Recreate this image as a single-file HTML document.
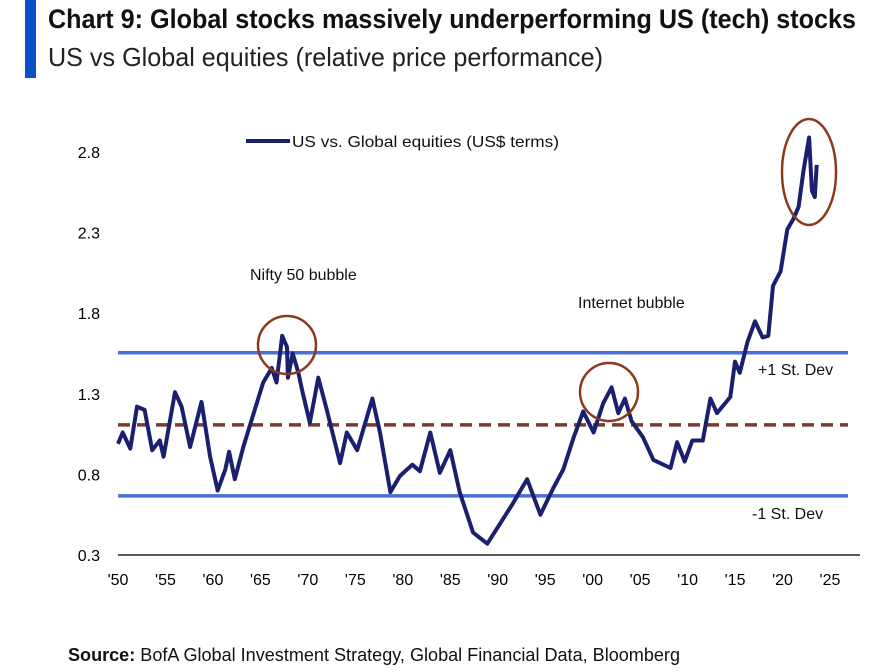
<!DOCTYPE html>
<html><head><meta charset="utf-8"><style>
body{margin:0;background:#fff;width:892px;height:672px;overflow:hidden;font-family:"Liberation Sans",sans-serif}
</style></head><body>
<svg width="892" height="672" style="position:absolute;left:0;top:0">
<rect x="25" y="0" width="11" height="78" fill="#0a52c8"/>
<text x="48" y="28" font-size="27" font-weight="bold" textLength="808" lengthAdjust="spacingAndGlyphs" fill="#111">Chart 9: Global stocks massively underperforming US (tech) stocks</text>
<text x="48" y="66" font-size="26" textLength="555" lengthAdjust="spacingAndGlyphs" fill="#222">US vs Global equities (relative price performance)</text>
<line x1="246" y1="141" x2="290" y2="141" stroke="#1a1f6e" stroke-width="4"/>
<text x="292" y="147" font-size="16" fill="#111" textLength="267" lengthAdjust="spacingAndGlyphs">US vs. Global equities (US$ terms)</text>
<g id="yticks"></g><g id="xticks"></g>
<line x1="118" y1="555" x2="860" y2="555" stroke="#222" stroke-width="1.5"/>
<g id="refs"></g>
<path id="series" fill="none" stroke="#1a1f6e" stroke-width="4" stroke-linejoin="round"/>
<circle cx="287" cy="345" r="29" fill="none" stroke="#8b3a1a" stroke-width="2.5"/>
<circle cx="609" cy="392" r="29" fill="none" stroke="#8b3a1a" stroke-width="2.5"/>
<ellipse cx="809" cy="172" rx="27" ry="53" fill="none" stroke="#8b3a1a" stroke-width="2.5"/>
<text x="250" y="280" font-size="16" fill="#111">Nifty 50 bubble</text>
<text x="578" y="308" font-size="16" fill="#111">Internet bubble</text>
<text x="758" y="375" font-size="16" fill="#111">+1 St. Dev</text>
<text x="752" y="519" font-size="16" fill="#111">-1 St. Dev</text>
<text x="68" y="661" font-size="18" fill="#111" textLength="612" lengthAdjust="spacingAndGlyphs"><tspan font-weight="bold">Source:</tspan> BofA Global Investment Strategy, Global Financial Data, Bloomberg</text>
</svg>
<script>
const years=[1950,1950.5,1951.3,1952,1952.8,1953.6,1954.4,1954.8,1956,1956.7,1957.6,1958.8,1959.7,1960.5,1961.3,1961.7,1962.3,1963.2,1964.4,1965.3,1966.2,1966.7,1967.3,1967.8,1967.9,1968.4,1969,1969.4,1970.2,1971.1,1972,1973.4,1974.1,1975.2,1976.8,1977.6,1978.7,1979.7,1981,1981.8,1982.9,1983.9,1985,1986,1987.4,1988.9,1990.3,1991.6,1993.1,1994.5,1995.9,1996.9,1998,1999,2000.1,2001.1,2002,2002.7,2003.4,2004.1,2005.3,2006.4,2008.2,2008.9,2009.7,2010.5,2011.6,2012.4,2013.1,2014.5,2015,2015.5,2016.3,2017.1,2017.9,2018.5,2019,2019.8,2020.5,2021.1,2021.7,2022.2,2022.8,2023.1,2023.4,2023.6];
const values=[0.99,1.06,0.96,1.22,1.2,0.95,1.01,0.91,1.31,1.22,0.97,1.25,0.91,0.70,0.83,0.94,0.77,0.97,1.2,1.37,1.46,1.37,1.66,1.59,1.40,1.55,1.43,1.32,1.12,1.40,1.2,0.87,1.06,0.95,1.27,1.06,0.69,0.79,0.86,0.82,1.06,0.81,0.95,0.69,0.44,0.37,0.50,0.62,0.77,0.55,0.72,0.83,1.03,1.19,1.06,1.24,1.34,1.18,1.27,1.13,1.03,0.89,0.84,1.00,0.88,1.01,1.01,1.27,1.18,1.28,1.50,1.43,1.62,1.75,1.65,1.66,1.97,2.06,2.32,2.38,2.46,2.68,2.89,2.56,2.52,2.72];
const yTicks=[0.3,0.8,1.3,1.8,2.3,2.8];
const xTicks=[1950,1955,1960,1965,1970,1975,1980,1985,1990,1995,2000,2005,2010,2015,2020,2025];
const xTickLabels=["'50","'55","'60","'65","'70","'75","'80","'85","'90","'95","'00","'05","'10","'15","'20","'25"];
const refLevels=[1.555,1.107,0.667];
const refNames=["plus-1-sd-line","mean-line","minus-1-sd-line"];
const xs=y=>118+(y-1950)*9.493;
const ys=v=>555-(v-0.3)*161.2;
const NS="http://www.w3.org/2000/svg";
const yg=document.getElementById('yticks');
yTicks.forEach(t=>{const e=document.createElementNS(NS,'text');e.setAttribute('x',100);e.setAttribute('y',ys(t)+6);e.setAttribute('text-anchor','end');e.setAttribute('font-size','16');e.textContent=t.toFixed(1);


yg.appendChild(e);});
const xg=document.getElementById('xticks');
xTicks.forEach((t,i)=>{const e=document.createElementNS(NS,'text');e.setAttribute('x',xs(t));e.setAttribute('y',585);e.setAttribute('text-anchor','middle');e.setAttribute('font-size','16');e.textContent=xTickLabels[i];


xg.appendChild(e);});
const rg=document.getElementById('refs');
refLevels.forEach((v,i)=>{const l=document.createElementNS(NS,'line');l.setAttribute('x1',118);l.setAttribute('x2',848);l.setAttribute('y1',ys(v));l.setAttribute('y2',ys(v));
if(i==1){l.setAttribute('stroke','#7a3b2e');l.setAttribute('stroke-width','3.5');l.setAttribute('stroke-dasharray','12 7');}else{l.setAttribute('stroke','#4a6fd6');l.setAttribute('stroke-width','3.5');}


rg.appendChild(l);});
document.getElementById('series').setAttribute('d',years.map((y,i)=>(i?'L':'M')+xs(y).toFixed(1)+' '+ys(values[i]).toFixed(1)).join(' '));
</script>
</body></html>
